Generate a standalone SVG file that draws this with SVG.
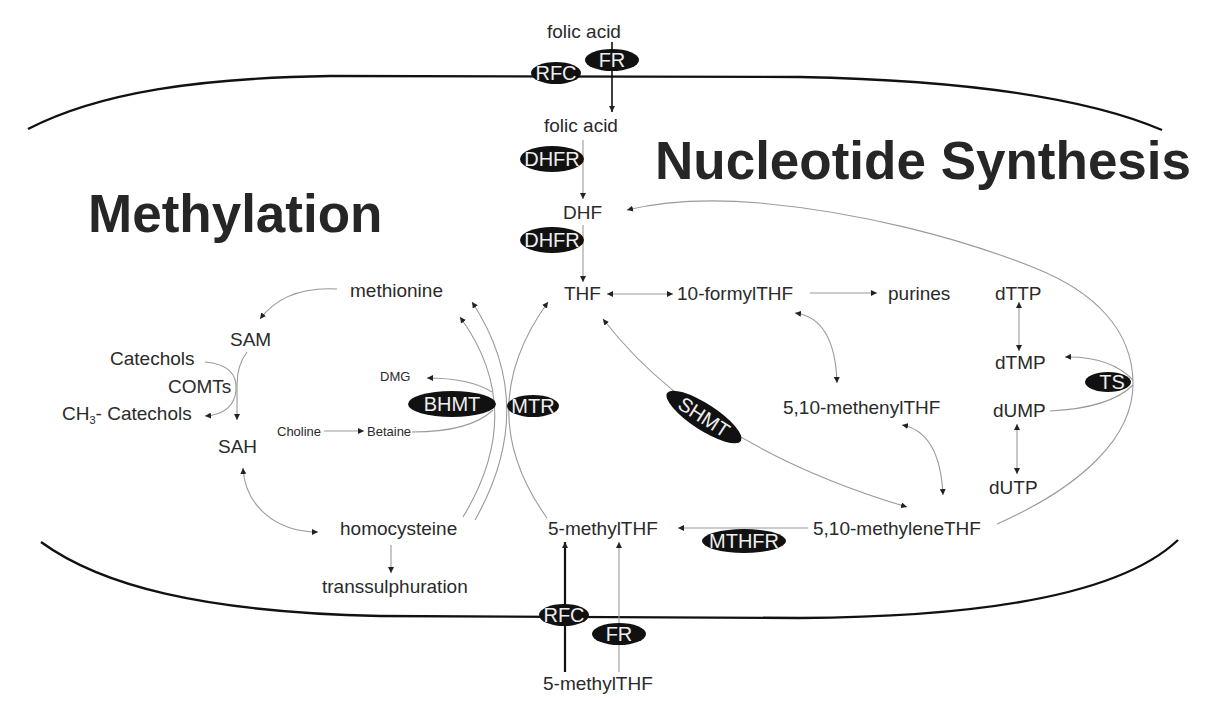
<svg xmlns="http://www.w3.org/2000/svg" width="1210" height="702" viewBox="0 0 1210 702">
<style>
text{font-family:"Liberation Sans",Arial,sans-serif;fill:#2a2a2a}
.n{font-size:19px}
.s{font-size:13px}
.big{font-size:53px;font-weight:bold;fill:#262626}
.e{fill:#111}
.et{font-size:20px;fill:#eee;text-anchor:middle}
.c{fill:none;stroke:#9a9a9a;stroke-width:1.1}
.k{fill:none;stroke:#111;stroke-width:1.6}
.mem{fill:none;stroke:#111;stroke-width:2.4}
</style>
<defs>
<marker id="a" viewBox="0 0 6 6" refX="6" refY="3" markerWidth="6" markerHeight="6" markerUnits="userSpaceOnUse" orient="auto-start-reverse">
<path d="M0,0 L6,3 L0,6 z" fill="#222"/>
</marker>
</defs>
<rect width="1210" height="702" fill="#fff"/>
<g id="membranes">
<path class="mem" d="M28,129 C100,92 200,78 330,76 L800,77 C950,80 1080,95 1162,130"/>
<path class="mem" d="M41,542 C100,585 200,612 380,616 L800,618 C980,617 1120,595 1178,540"/>
</g>
<g id="connectors">
<path class="k" d="M612,42 L612,112" marker-end="url(#a)"/>
<path class="c" d="M583,140 L583,199" marker-end="url(#a)"/>
<path class="c" d="M583,225 L583,282" marker-end="url(#a)"/>
<path class="c" d="M607,294 L673,294" marker-start="url(#a)" marker-end="url(#a)"/>
<path class="c" d="M810,293 L877,293" marker-end="url(#a)"/>
<path class="c" d="M795,313 Q835,318 837,383" marker-start="url(#a)" marker-end="url(#a)"/>
<path class="c" d="M902,425 Q940,432 943,495" marker-start="url(#a)" marker-end="url(#a)"/>
<path class="c" d="M603,319 Q700,445 907,507" marker-start="url(#a)" marker-end="url(#a)"/>
<path class="c" d="M808,528 L678,528" marker-end="url(#a)"/>
<path class="c" d="M997,524 C1085,485 1134,435 1133,382 C1132,330 1095,292 1035,268 C960,238 860,212 760,203 C700,198 660,202 627,210" marker-end="url(#a)"/>
<path class="c" d="M1133,380 Q1110,356 1065,357" marker-end="url(#a)"/>
<path class="c" d="M1050,411 Q1110,408 1133,385"/>
<path class="c" d="M1019,302 L1019,351" marker-start="url(#a)" marker-end="url(#a)"/>
<path class="c" d="M1017,424 L1017,474" marker-start="url(#a)" marker-end="url(#a)"/>
<path class="c" d="M547,518 Q470,410 548,302" marker-end="url(#a)"/>
<path class="c" d="M463,517 Q528,410 460,317" marker-end="url(#a)"/>
<path class="c" d="M475,520 Q540,405 472,302" marker-end="url(#a)"/>
<path class="c" d="M492,392 Q470,378 427,378" marker-end="url(#a)"/>
<path class="c" d="M412,432 Q470,432 493,410"/>
<path class="c" d="M324,431 L364,431" marker-end="url(#a)"/>
<path class="c" d="M337,289 Q285,286 260,319" marker-end="url(#a)"/>
<path class="c" d="M247,352 Q237,365 237,385 L237,420" marker-end="url(#a)"/>
<path class="c" d="M205,362 Q238,365 236,390 Q234,414 205,416" marker-end="url(#a)"/>
<path class="c" d="M243,468 C245,505 275,532 318,532" marker-start="url(#a)" marker-end="url(#a)"/>
<path class="c" d="M391,545 L391,573" marker-end="url(#a)"/>
<path class="k" style="stroke-width:2.2" d="M565,672 L565,542" marker-end="url(#a)"/>
<path class="c" d="M619,672 L619,542" marker-end="url(#a)"/>
</g>
<g id="title-methylation"><text class="big" x="88" y="232">Methylation</text></g>
<g id="title-nucleotide"><text class="big" x="655" y="179">Nucleotide Synthesis</text></g>
<g id="rfc-top"><ellipse class="e" cx="556" cy="73" rx="25" ry="11"/><text class="et" x="556" y="80">RFC</text></g>
<g id="fr-top"><ellipse class="e" cx="612" cy="60" rx="27" ry="11"/><text class="et" x="612" y="67">FR</text></g>
<g id="dhfr1"><ellipse class="e" cx="552" cy="159" rx="32" ry="13"/><text class="et" x="552" y="166">DHFR</text></g>
<g id="dhfr2"><ellipse class="e" cx="552" cy="240" rx="32" ry="13"/><text class="et" x="552" y="247">DHFR</text></g>
<g id="bhmt"><ellipse class="e" cx="452" cy="404" rx="44" ry="13"/><text class="et" x="452" y="411">BHMT</text></g>
<g id="mtr"><ellipse class="e" cx="533" cy="406" rx="26" ry="11"/><text class="et" x="533" y="413">MTR</text></g>
<g id="shmt" transform="translate(704,417) rotate(33)"><ellipse class="e" cx="0" cy="0" rx="44" ry="13"/><text class="et" x="0" y="7">SHMT</text></g>
<g id="ts"><ellipse class="e" cx="1108" cy="382" rx="23" ry="10"/><text class="et" x="1112" y="389">TS</text></g>
<g id="mthfr"><ellipse class="e" cx="744" cy="541" rx="42" ry="12"/><text class="et" x="744" y="548">MTHFR</text></g>
<g id="rfc-bottom"><ellipse class="e" cx="564" cy="615" rx="25" ry="11"/><text class="et" x="564" y="622">RFC</text></g>
<g id="fr-bottom"><ellipse class="e" cx="619" cy="634" rx="27" ry="11"/><text class="et" x="619" y="641">FR</text></g>
<g id="folic-out"><text class="n" x="547" y="38">folic acid</text></g>
<g id="folic-in"><text class="n" x="544" y="132">folic acid</text></g>
<g id="dhf"><text class="n" x="563" y="219">DHF</text></g>
<g id="thf"><text class="n" x="564" y="300">THF</text></g>
<g id="formylthf"><text class="n" x="677" y="300">10-formylTHF</text></g>
<g id="purines"><text class="n" x="888" y="300">purines</text></g>
<g id="methenylthf"><text class="n" x="783" y="414">5,10-methenylTHF</text></g>
<g id="dttp"><text class="n" x="995" y="300">dTTP</text></g>
<g id="dtmp"><text class="n" x="995" y="369">dTMP</text></g>
<g id="dump"><text class="n" x="993" y="417">dUMP</text></g>
<g id="dutp"><text class="n" x="989" y="494">dUTP</text></g>
<g id="methylenethf"><text class="n" x="813" y="535">5,10-methyleneTHF</text></g>
<g id="methylthf"><text class="n" x="548" y="535">5-methylTHF</text></g>
<g id="methylthf-out"><text class="n" x="543" y="690">5-methylTHF</text></g>
<g id="homocysteine"><text class="n" x="340" y="535">homocysteine</text></g>
<g id="transsulphuration"><text class="n" x="322" y="593">transsulphuration</text></g>
<g id="methionine"><text class="n" x="350" y="297">methionine</text></g>
<g id="sam"><text class="n" x="230" y="346">SAM</text></g>
<g id="sah"><text class="n" x="218" y="453">SAH</text></g>
<g id="catechols"><text class="n" x="110" y="365">Catechols</text></g>
<g id="comts"><text class="n" x="168" y="393">COMTs</text></g>
<g id="ch3-catechols"><text class="n" x="62" y="420">CH<tspan font-size="11" dy="4">3</tspan><tspan dy="-4">- Catechols</tspan></text></g>
<g id="dmg"><text class="s" x="380" y="381">DMG</text></g>
<g id="choline"><text class="s" x="277" y="436">Choline</text></g>
<g id="betaine"><text class="s" x="367" y="436">Betaine</text></g>
</svg>
